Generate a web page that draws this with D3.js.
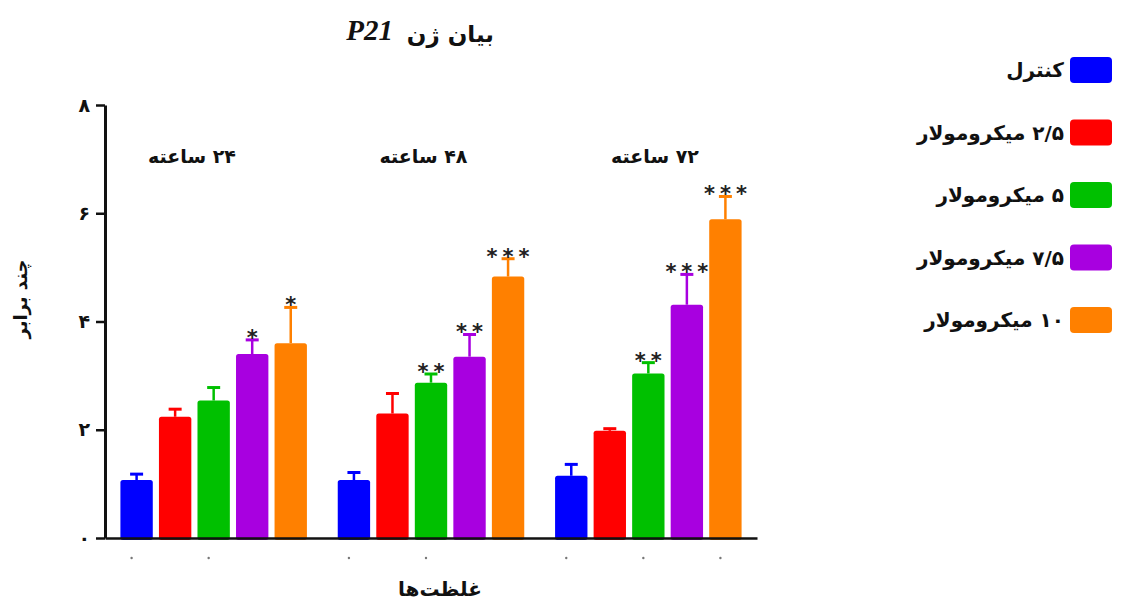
<!DOCTYPE html>
<html>
<head>
<meta charset="utf-8">
<script src="https://cdn.jsdelivr.net/npm/d3@7"></script>
<style>
  body { margin: 0; background: #fff; }
  svg { display: block; font-family: "DejaVu Sans", sans-serif; }
  .fa { font-weight: bold; fill: #111; direction: rtl; unicode-bidi: embed; }
</style>
</head>
<body>
<svg id="chart" width="1132" height="610"></svg>
<script>
// chart values
const groups = ["۲۴ ساعته", "۴۸ ساعته", "۷۲ ساعته"];
const series = ["کنترل", "۲/۵ میکرومولار", "۵ میکرومولار", "۷/۵ میکرومولار", "۱۰ میکرومولار"];
const colors = ["#0000ff", "#ff0000", "#00c000", "#a800e0", "#ff8000"];

const means24 = [1.07, 2.24, 2.54, 3.40, 3.60];
const means48 = [1.07, 2.30, 2.87, 3.35, 4.83];
const means72 = [1.15, 1.98, 3.04, 4.31, 5.89];
const errors24 = [0.11, 0.14, 0.24, 0.26, 0.66];
const errors48 = [0.14, 0.37, 0.16, 0.41, 0.33];
const errors72 = [0.21, 0.04, 0.20, 0.56, 0.42];
const stars24 = ["", "", "", "*", "*"];
const stars48 = ["", "", "**", "**", "***"];
const stars72 = ["", "", "**", "***", "***"];

const yTicks = [0, 2, 4, 6, 8];

const means = [means24, means48, means72];
const errors = [errors24, errors48, errors72];
const stars = [stars24, stars48, stars72];

const faDigits = "۰۱۲۳۴۵۶۷۸۹";
const toFa = n => String(n).replace(/\d/g, d => faDigits[+d]);

const svg = d3.select("#chart");

const y = d3.scaleLinear().domain([0, 8]).range([538, 105]);
const x0 = d3.scaleBand().domain(groups).range([105, 757]);
const x1 = d3.scaleBand().domain(series).range([0, x0.bandwidth()])
  .paddingInner(0.16).paddingOuter(0.4);
// group captions sit a little wider apart than the bar groups
const xLabel = d3.scalePoint().domain(groups).range([192, 655]);

// flat rows for drawing
const rows = [];
groups.forEach((g, gi) => {
  series.forEach((s, si) => {
    rows.push({ g, s, si, v: means[gi][si], e: errors[gi][si], star: stars[gi][si] });
  });
});
const cx = d => x0(d.g) + x1(d.s) + x1.bandwidth() / 2;

// bars
svg.append("g").selectAll("rect")
  .data(rows)
  .join("rect")
  .attr("x", d => x0(d.g) + x1(d.s))
  .attr("y", d => y(d.v))
  .attr("width", x1.bandwidth())
  .attr("height", d => y(0) - y(d.v) + 2)
  .attr("rx", 2.5)
  .attr("fill", d => colors[d.si]);

// error bars (upper only)
const eb = svg.append("g").selectAll("g").data(rows).join("g")
  .attr("stroke", d => colors[d.si]);
eb.append("line")
  .attr("x1", cx).attr("x2", cx)
  .attr("y1", d => y(d.v))
  .attr("y2", d => y(d.v + d.e))
  .attr("stroke-width", 2.5);
eb.append("line")
  .attr("x1", d => cx(d) - 6.5)
  .attr("x2", d => cx(d) + 6.5)
  .attr("y1", d => y(d.v + d.e))
  .attr("y2", d => y(d.v + d.e))
  .attr("stroke-width", 3);

// significance stars
svg.append("g").selectAll("text")
  .data(rows.filter(d => d.star))
  .join("text")
  .attr("x", d => cx(d) + 2.5)
  .attr("y", d => y(d.v + d.e) + 5)
  .attr("text-anchor", "middle")
  .attr("font-size", 21)
  .attr("font-weight", "bold")
  .attr("letter-spacing", 5)
  .attr("fill", "#222")
  .text(d => d.star);

// y axis
const yAxis = svg.append("g")
  .attr("transform", "translate(105,0)")
  .call(d3.axisLeft(y).tickValues(yTicks).tickSize(9).tickSizeOuter(0).tickPadding(6).tickFormat(toFa));
yAxis.select(".domain").attr("stroke-width", 3).attr("stroke", "#111");
yAxis.selectAll(".tick line").attr("stroke-width", 2.5).attr("stroke", "#111");
yAxis.selectAll(".tick text")
  .attr("font-family", "DejaVu Sans, sans-serif")
  .attr("font-size", 19).attr("font-weight", "bold").attr("fill", "#111");

// x axis baseline
const xAxis = svg.append("g")
  .attr("transform", "translate(0,538)")
  .call(d3.axisBottom(x0).tickValues([]).tickSizeOuter(0));
xAxis.select(".domain").attr("stroke-width", 2.5).attr("stroke", "#111");

// faint tick dots under the axis
svg.append("g").selectAll("circle")
  .data(rows.filter(d => d.si === 0 || d.si === 2 || (d.g === groups[2] && d.si === 4)))
  .join("circle")
  .attr("cx", d => cx(d) - 5)
  .attr("cy", 558)
  .attr("r", 1.2)
  .attr("fill", "#777");

// group labels
svg.append("g").selectAll("text")
  .data(groups)
  .join("text")
  .attr("class", "fa")
  .attr("x", d => xLabel(d))
  .attr("y", 163)
  .attr("text-anchor", "middle")
  .attr("font-size", 19)
  .text(d => d);

// title
svg.append("text").attr("class", "fa")
  .attr("x", 494).attr("y", 42).attr("text-anchor", "start")
  .attr("font-size", 23).text("بیان ژن");
svg.append("text")
  .attr("x", 393).attr("y", 40).attr("text-anchor", "end")
  .attr("font-family", "Liberation Serif, serif")
  .attr("font-style", "italic").attr("font-weight", "bold")
  .attr("font-size", 29).attr("fill", "#111").text("P21");

// axis titles
svg.append("text").attr("class", "fa")
  .attr("transform", "translate(27,299) rotate(-90)")
  .attr("text-anchor", "middle").attr("font-size", 18)
  .text("چند برابر");
svg.append("text").attr("class", "fa")
  .attr("x", 440).attr("y", 596).attr("text-anchor", "middle")
  .attr("font-size", 20).text("غلظت‌ها");

// legend
const legend = svg.append("g").selectAll("g")
  .data(series)
  .join("g")
  .attr("transform", (d, i) => `translate(0,${70 + i * 62.5})`);
legend.append("rect")
  .attr("x", 1070).attr("y", -13).attr("width", 42).attr("height", 26)
  .attr("rx", 4).attr("fill", (d, i) => colors[i]);
legend.append("text").attr("class", "fa")
  .attr("x", 1064).attr("y", 7).attr("text-anchor", "start")
  .attr("font-size", 20).text(d => d);
</script>
</body>
</html>
